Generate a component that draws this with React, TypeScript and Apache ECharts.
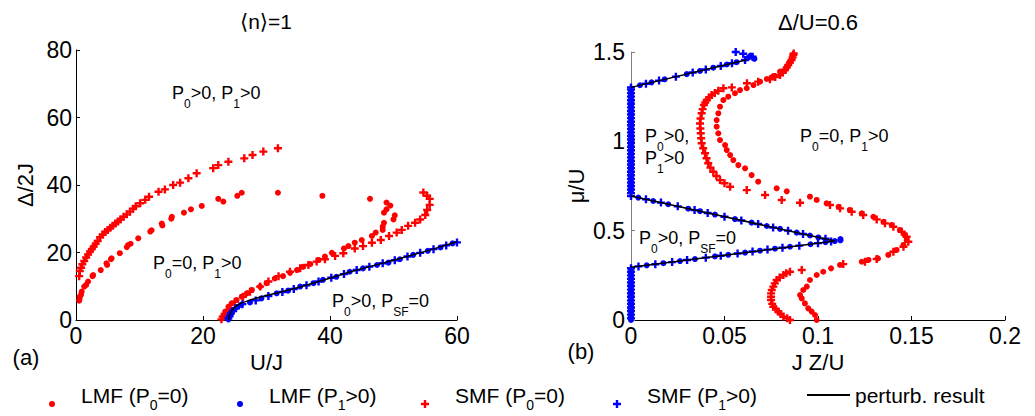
import React, { useEffect, useRef } from "react";
import * as echarts from "echarts";

// ---------- panel (a): <n>=1, x = U/J, y = Δ/2J ----------
const lmfP0UpperA = [
  [0.5, 5.7], [0.55, 6.2], [0.6, 6.9], [0.8, 7.5], [0.9, 8.4], [1.3, 9.9], [1.6, 10.4], [1.9, 11.4],
  [2.6, 13.0], [2.7, 13.3], [3.9, 14.8], [4.8, 16.8], [4.9, 16.3], [5.5, 18.0], [5.6, 18.3],
  [6.9, 19.8], [8.0, 21.6], [8.2, 22.2], [8.6, 22.6], [9.8, 24.2], [11.7, 26.2], [11.9, 26.6],
  [13.5, 28.6], [13.6, 28.0], [15.0, 30.0], [15.1, 30.6], [17.0, 31.8], [18.1, 32.8], [19.8, 33.8],
  [22.4, 35.9], [23.2, 35.1], [25.4, 36.8], [26.1, 37.7], [31.8, 37.7], [38.8, 36.8], [46.3, 35.9],
];
const lmfP0LowerA = [
  [23.2, 1.0], [23.5, 2.5], [24.0, 3.9], [24.5, 4.9], [25.3, 5.9], [26.1, 6.9], [26.9, 7.9],
  [27.7, 8.9], [29.0, 9.9], [30.0, 10.9], [31.3, 12.3], [32.6, 13.0], [33.7, 14.0], [34.8, 14.8],
  [35.8, 15.8], [36.9, 16.6], [38.2, 17.8], [39.2, 18.8], [40.3, 19.9], [42.2, 21.2], [42.9, 21.9],
  [43.9, 22.9], [45.0, 23.7], [46.6, 24.9], [47.2, 25.9], [48.3, 26.7], [48.3, 27.7], [48.5, 28.8],
  [50.0, 29.8], [50.2, 31.0], [48.5, 31.8], [48.9, 32.8], [49.5, 33.9], [48.9, 34.8],
];
const smfP0UpperA = [
  [0.5, 13.0], [0.6, 14.5], [0.8, 15.5], [1.0, 16.5], [1.3, 17.5], [1.6, 18.5], [1.9, 19.4],
  [2.2, 20.3], [2.5, 21.0], [2.8, 21.8], [3.1, 22.6], [3.4, 23.4], [3.8, 24.5], [4.2, 25.3],
  [4.6, 26.1], [5.0, 26.7], [5.4, 27.3], [5.8, 27.9], [6.2, 28.6], [6.6, 29.2], [7.0, 29.8],
  [7.5, 30.6], [8.0, 31.3], [8.5, 32.1], [9.0, 33.0], [9.4, 33.7], [10.1, 34.6], [10.9, 35.6],
  [11.5, 36.5], [13.0, 38.0], [14.0, 38.7], [15.3, 40.0], [16.4, 40.7], [17.7, 42.0], [19.0, 43.5],
  [21.6, 45.0], [22.4, 45.9], [24.0, 46.9], [26.5, 47.9], [27.8, 48.9], [29.5, 49.9], [31.8, 50.9],
];
const smfP0LowerA = [
  [22.9, 0.2], [23.1, 1.0], [23.4, 1.8], [23.8, 2.7], [24.3, 3.5], [25.0, 5.4], [26.3, 6.9],
  [27.4, 8.4], [29.0, 9.9], [30.3, 11.4], [31.9, 13.0], [33.7, 14.3], [35.3, 15.3], [36.6, 16.3],
  [37.9, 17.3], [39.2, 18.0], [40.8, 19.0], [42.1, 19.8], [43.9, 21.2], [45.2, 21.9], [46.6, 22.9],
  [48.0, 23.7], [49.3, 24.9], [50.5, 25.9], [51.3, 26.7], [52.3, 27.9], [53.4, 28.8], [54.2, 29.8],
  [55.0, 31.1], [55.3, 32.6], [55.7, 34.1], [55.7, 35.9], [55.3, 36.8], [54.7, 37.8],
];
const lmfP1A = [
  [24.0, 0.2], [24.1, 0.8], [24.3, 1.6], [24.5, 2.3], [24.8, 3.0], [25.3, 3.8], [26.0, 4.5],
  [27.4, 5.2], [29.2, 6.4], [31.6, 7.9], [33.4, 8.7], [35.3, 9.9], [37.4, 10.9], [38.9, 11.9],
  [41.0, 12.8], [43.1, 14.3], [45.2, 15.3], [47.4, 16.3], [49.2, 17.0], [51.0, 18.0], [53.1, 19.3],
  [55.4, 20.5], [57.4, 21.5], [59.3, 22.7],
];
const smfP1A = [
  [24.0, 0.5], [24.2, 1.2], [24.4, 2.0], [24.7, 2.7], [25.2, 3.5], [26.2, 4.7], [28.3, 5.8],
  [30.3, 7.1], [32.5, 8.3], [34.3, 9.2], [36.3, 10.3], [38.2, 11.4], [40.2, 12.5], [42.2, 13.6],
  [44.2, 14.8], [46.2, 15.8], [48.3, 16.8], [50.2, 17.7], [52.2, 18.8], [54.2, 19.9], [56.3, 21.0],
  [58.3, 22.1], [60.0, 23.0],
];
const perturbA = [
  [24.0, 0], [24.1, 1.0], [24.3, 2.0], [24.6, 3.0], [25.1, 4.0], [26.0, 5.0], [27.4, 5.9],
  [29.2, 6.9], [31.6, 8.0], [35.3, 9.8], [38.9, 11.8], [43.1, 14.2], [47.4, 16.4], [51.0, 18.2],
  [55.7, 20.7], [60.0, 23.2],
];

// ---------- panel (b): Δ/U=0.6, x = J Z/U, y = μ/U ----------
const lmfP0B = [
  [0.0993, 0.0], [0.0984, 0.028], [0.0966, 0.047], [0.0948, 0.065], [0.093, 0.093], [0.0913, 0.121],
  [0.0904, 0.14], [0.0921, 0.168], [0.094, 0.187], [0.0957, 0.224], [0.0993, 0.252], [0.1028, 0.27],
  [0.107, 0.289], [0.1118, 0.308], [0.1234, 0.326], [0.127, 0.336], [0.132, 0.345], [0.1376, 0.364],
  [0.142, 0.392], [0.1457, 0.42], [0.1474, 0.448], [0.1465, 0.476], [0.1438, 0.504], [0.1394, 0.532],
  [0.135, 0.55], [0.1296, 0.578], [0.1234, 0.597], [0.117, 0.616], [0.111, 0.634], [0.1046, 0.653],
  [0.0993, 0.672], [0.0957, 0.69], [0.0833, 0.72], [0.0779, 0.737], [0.068, 0.774], [0.0645, 0.811],
  [0.061, 0.849], [0.0574, 0.867], [0.0547, 0.895], [0.053, 0.923], [0.0512, 0.951], [0.0503, 0.979],
  [0.0476, 1.007], [0.0467, 1.045], [0.0458, 1.082], [0.0458, 1.119], [0.0467, 1.157], [0.0476, 1.194],
  [0.0494, 1.231], [0.052, 1.25], [0.0556, 1.269], [0.0583, 1.287], [0.0619, 1.297], [0.0655, 1.315],
  [0.069, 1.334], [0.0726, 1.349], [0.0761, 1.365], [0.0797, 1.39], [0.0833, 1.418], [0.085, 1.446],
];
const smfP0B = [
  [0.085, 0.0], [0.0835, 0.01], [0.0815, 0.019], [0.08, 0.033], [0.0788, 0.047], [0.0775, 0.06],
  [0.0761, 0.074], [0.0755, 0.09], [0.0749, 0.112], [0.0749, 0.13], [0.0749, 0.149], [0.0753, 0.168],
  [0.0761, 0.187], [0.0769, 0.205], [0.0779, 0.224], [0.0795, 0.238], [0.0815, 0.252], [0.083, 0.262],
  [0.085, 0.27], [0.0913, 0.28], [0.1135, 0.313], [0.1251, 0.326], [0.1314, 0.341], [0.1403, 0.382],
  [0.1457, 0.41], [0.1483, 0.438], [0.1474, 0.466], [0.1448, 0.494], [0.1403, 0.522], [0.1358, 0.541],
  [0.1314, 0.563], [0.1242, 0.588], [0.118, 0.606], [0.1118, 0.625], [0.1064, 0.644], [0.0904, 0.656],
  [0.0806, 0.672], [0.0717, 0.7], [0.0619, 0.727], [0.053, 0.746], [0.05, 0.765], [0.0476, 0.783],
  [0.0457, 0.806], [0.044, 0.83], [0.0425, 0.853], [0.0413, 0.877], [0.0404, 0.905], [0.0396, 0.933],
  [0.0386, 0.961], [0.0378, 0.989], [0.0375, 1.017], [0.0373, 1.045], [0.0371, 1.072], [0.0369, 1.1],
  [0.0372, 1.128], [0.0378, 1.157], [0.0383, 1.18], [0.039, 1.203], [0.0397, 1.217], [0.0405, 1.231],
  [0.0418, 1.245], [0.0431, 1.259], [0.0448, 1.271], [0.0467, 1.283], [0.0494, 1.297], [0.0539, 1.302],
  [0.062, 1.325], [0.068, 1.334], [0.0743, 1.347], [0.0771, 1.36], [0.0797, 1.371], [0.0812, 1.385],
  [0.0824, 1.399], [0.0833, 1.413], [0.0841, 1.427], [0.085, 1.441], [0.0859, 1.455], [0.0864, 1.469],
  [0.0868, 1.483], [0.087, 1.492], [0.0872, 1.501], [0.085, 1.51],
];
const lmfP1AxisMuB = [
  0, 0.02, 0.04, 0.06, 0.08, 0.1, 0.12, 0.14, 0.16, 0.18, 0.2, 0.22, 0.24, 0.26, 0.28,
  0.72, 0.74, 0.76, 0.78, 0.8, 0.82, 0.84, 0.86, 0.88, 0.9, 0.92, 0.94, 0.96, 0.98, 1.0,
  1.02, 1.04, 1.06, 1.08, 1.1, 1.12, 1.14, 1.16, 1.18, 1.2, 1.22, 1.24, 1.26, 1.28,
];
const smfP1AxisMuB = [
  0.01, 0.03, 0.05, 0.07, 0.09, 0.11, 0.13, 0.15, 0.17, 0.19, 0.21, 0.23, 0.25, 0.27, 0.29,
  0.71, 0.73, 0.75, 0.77, 0.79, 0.81, 0.83, 0.85, 0.87, 0.89, 0.91, 0.93, 0.95, 0.97, 0.99,
  1.01, 1.03, 1.05, 1.07, 1.09, 1.11, 1.13, 1.15, 1.17, 1.19, 1.21, 1.23, 1.25, 1.27, 1.29,
];
const lmfP1LobeB = [
  [0.0084, 0.306], [0.0173, 0.318], [0.0262, 0.33], [0.0342, 0.341], [0.0449, 0.356], [0.052, 0.365],
  [0.061, 0.377], [0.069, 0.388], [0.077, 0.399], [0.085, 0.41], [0.096, 0.424], [0.104, 0.436],
  [0.109, 0.442], [0.112, 0.446], [0.112, 0.453],
  [0.0039, 0.685], [0.0119, 0.666], [0.0199, 0.648], [0.0306, 0.623], [0.0369, 0.609], [0.0449, 0.59],
  [0.0556, 0.565], [0.0645, 0.545], [0.0726, 0.526], [0.0797, 0.51], [0.0886, 0.489], [0.0957, 0.473],
  [0.1002, 0.462],
  [0.0048, 1.314], [0.011, 1.33], [0.018, 1.347], [0.0298, 1.376], [0.0369, 1.394], [0.044, 1.412],
  [0.0512, 1.43], [0.0565, 1.443], [0.063, 1.47], [0.066, 1.462], [0.064, 1.48],
];
const smfP1LobeB = [
  [0.004, 0.3], [0.013, 0.312], [0.022, 0.324], [0.03, 0.336], [0.04, 0.349], [0.048, 0.36],
  [0.057, 0.372], [0.065, 0.383], [0.073, 0.394], [0.081, 0.404], [0.09, 0.416], [0.1, 0.43], [0.107, 0.44],
  [0.0, 0.694], [0.008, 0.676], [0.016, 0.657], [0.025, 0.636], [0.034, 0.615], [0.041, 0.599],
  [0.05, 0.578], [0.059, 0.557], [0.068, 0.537], [0.076, 0.518], [0.084, 0.5], [0.092, 0.481], [0.104, 0.455],
  [0.0, 1.302], [0.008, 1.322], [0.015, 1.34], [0.024, 1.362], [0.033, 1.385], [0.04, 1.402],
  [0.048, 1.422], [0.054, 1.437], [0.056, 1.5], [0.06, 1.49], [0.065, 1.473], [0.061, 1.455],
];
const perturbB1 = [[0, 0.295], [0.109, 0.442], [0, 0.694]];
const perturbB2 = [[0, 1.302], [0.062, 1.457]];

const xTicksA = { min: 0, max: 60, interval: 20 };
const yTicksA = { min: 0, max: 80, interval: 20 };
const xTicksB = { min: 0, max: 0.2, interval: 0.05 };
const yTicksB = { min: 0, max: 1.5, interval: 0.5 };

const FONT = '"Liberation Sans", Arial, Helvetica, "DejaVu Sans", sans-serif';
const RED = "#ff0000";
const BLUE = "#0000ff";
const PLUS = "path://M-1.2,-4H1.2V-1.2H4V1.2H1.2V4H-1.2V1.2H-4V-1.2H-1.2Z";

const legendText: Record<string, string> = {
  "LMF (P0=0)": "{a|LMF (P}{s|0}{a|=0)}",
  "LMF (P1>0)": "{a|LMF (P}{s|1}{a|>0)}",
  "SMF (P0=0)": "{a|SMF (P}{s|0}{a|=0)}",
  "SMF (P1>0)": "{a|SMF (P}{s|1}{a|>0)}",
  "perturb. result": "{a|perturb. result}",
};

const legendRich = {
  a: { fontSize: 21, fontFamily: FONT, color: "#000", lineHeight: 22, verticalAlign: "middle" },
  s: { fontSize: 14, fontFamily: FONT, color: "#000", lineHeight: 14, verticalAlign: "top", padding: [14, 0, 0, 0] },
};

const annoRich = {
  a: { fontSize: 18, fontFamily: FONT, fill: "#000", color: "#000", lineHeight: 20, verticalAlign: "middle" },
  s: { fontSize: 12, fontFamily: FONT, fill: "#000", color: "#000", lineHeight: 12, verticalAlign: "top", padding: [15, 0, 0, 0] },
};

const DOT_ICON = "path://M0,0L27,0L0,0Z M0,23A3,3 0 1 1 6,23A3,3 0 1 1 0,23Z M0,28L1,28L0,28Z";
const PLUS_ICON = "path://M0,0L29,0L0,0Z M2.8,19H5.2V21.8H8V24.2H5.2V27H2.8V24.2H0V21.8H2.8Z M0,28L1,28L0,28Z";
const LINE_ICON = "path://M0,0L43,0L0,0Z M0,13H43V15H0Z M0,28L1,28L0,28Z";

function makeLegend(name: string, left: number, icon: string, w: number) {
  return {
    data: [name],
    left,
    top: 381,
    padding: 0,
    itemWidth: w,
    itemHeight: 28,
    icon,
    selectedMode: false,
    formatter: (n: string) => legendText[n] || n,
    textStyle: { rich: legendRich, color: "#000" },
  };
}

function scatter(name: string, idx: number, data: number[][], symbol: string, size: number, color: string) {
  return {
    type: "scatter",
    name,
    xAxisIndex: idx,
    yAxisIndex: idx,
    data,
    symbol,
    symbolSize: size,
    itemStyle: { color, opacity: 1 },
    emphasis: { disabled: true },
    z: 2,
  };
}

function line(name: string, idx: number, data: number[][]) {
  return {
    type: "line",
    name,
    xAxisIndex: idx,
    yAxisIndex: idx,
    data,
    showSymbol: false,
    symbol: "none",
    lineStyle: { color: "#000", width: 1.5 },
    itemStyle: { color: "#000" },
    z: 3,
  };
}

function axisCommon(color: string) {
  return {
    type: "value",
    axisLine: { show: true, onZero: false, lineStyle: { color, width: 1 } },
    axisTick: { show: true, inside: true, length: 4, lineStyle: { color } },
    axisLabel: { fontSize: 23, color: "#000", fontFamily: FONT },
    splitLine: { show: false },
    nameLocation: "middle",
    nameTextStyle: { fontSize: 22, color: "#000", fontFamily: FONT },
  };
}

function anno(x: number, y: number, text: string) {
  return {
    type: "text",
    x,
    y,
    style: { text, rich: annoRich, align: "left", verticalAlign: "middle", fill: "#000" },
  };
}

function plainText(x: number, y: number, text: string, size: number) {
  return {
    type: "text",
    x,
    y,
    style: {
      text,
      font: `${size}px ${FONT}`,
      align: "center",
      verticalAlign: "middle",
      fill: "#000",
    },
  };
}

export default function App() {
  const ref = useRef<HTMLDivElement>(null);
  useEffect(() => {
    document.body.style.margin = "0";
    if (!ref.current) return;
    const chart = echarts.init(ref.current, null, { renderer: "svg" });
    const option = {
      animation: false,
      backgroundColor: "#fff",
      grid: [
        { left: 76, top: 50, width: 381, height: 270 },
        { left: 631, top: 52, width: 374, height: 268 },
      ],
      xAxis: [
        { ...axisCommon("#000"), gridIndex: 0, ...xTicksA, name: "U/J", nameGap: 28,
          axisLabel: { fontSize: 23, color: "#000", fontFamily: FONT, margin: 4 } },
        { ...axisCommon("#000"), gridIndex: 1, ...xTicksB, name: "J Z/U", nameGap: 28,
          axisLabel: { fontSize: 23, color: "#000", fontFamily: FONT, margin: 4 } },
      ],
      yAxis: [
        { ...axisCommon("#000"), gridIndex: 0, ...yTicksA, name: "Δ/2J", nameGap: 40,
          axisLabel: { fontSize: 23, color: "#000", fontFamily: FONT, margin: 4 } },
        { ...axisCommon("#808080"), gridIndex: 1, ...yTicksB, name: "μ/U", nameGap: 44,
          axisLabel: { fontSize: 23, color: "#000", fontFamily: FONT, margin: 6 } },
      ],
      legend: [
        makeLegend("LMF (P0=0)", 49, DOT_ICON, 27),
        makeLegend("LMF (P1>0)", 237, DOT_ICON, 27),
        makeLegend("SMF (P0=0)", 421, PLUS_ICON, 29),
        makeLegend("SMF (P1>0)", 613, PLUS_ICON, 29),
        makeLegend("perturb. result", 807, LINE_ICON, 43),
      ],
      graphic: [
        plainText(266, 21, "⟨n⟩=1", 21),
        plainText(818, 22, "Δ/U=0.6", 22),
        plainText(26, 357, "(a)", 22),
        plainText(581, 351, "(b)", 22),
        anno(172, 93, "{a|P}{s|0}{a|>0, P}{s|1}{a|>0}"),
        anno(153, 263, "{a|P}{s|0}{a|=0, P}{s|1}{a|>0}"),
        anno(332, 301, "{a|P}{s|0}{a|>0, P}{s|SF}{a|=0}"),
        anno(645, 136, "{a|P}{s|0}{a|>0,}"),
        anno(645, 158, "{a|P}{s|1}{a|>0}"),
        anno(800, 136, "{a|P}{s|0}{a|=0, P}{s|1}{a|>0}"),
        anno(639, 238, "{a|P}{s|0}{a|>0, P}{s|SF}{a|=0}"),
      ],
      series: [
        scatter("LMF (P0=0)", 0, [...lmfP0UpperA, ...lmfP0LowerA], "circle", 6, RED),
        scatter("SMF (P0=0)", 0, [...smfP0UpperA, ...smfP0LowerA], PLUS, 8, RED),
        scatter("LMF (P1>0)", 0, lmfP1A, "circle", 6, BLUE),
        scatter("SMF (P1>0)", 0, smfP1A, PLUS, 8, BLUE),
        line("perturb. result", 0, perturbA),
        scatter("LMF (P0=0)", 1, lmfP0B, "circle", 6, RED),
        scatter("SMF (P0=0)", 1, smfP0B, PLUS, 8, RED),
        scatter("LMF (P1>0)", 1, [...lmfP1AxisMuB.map((m) => [0, m]), ...lmfP1LobeB], "circle", 6, BLUE),
        scatter("SMF (P1>0)", 1, [...smfP1AxisMuB.map((m) => [0, m]), ...smfP1LobeB], PLUS, 8, BLUE),
        line("perturb. result", 1, perturbB1),
        line("perturb. result", 1, perturbB2),
      ],
    };
    chart.setOption(option as any);
    return () => chart.dispose();
  }, []);
  return <div ref={ref} style={{ width: 1035, height: 416 }} />;
}
